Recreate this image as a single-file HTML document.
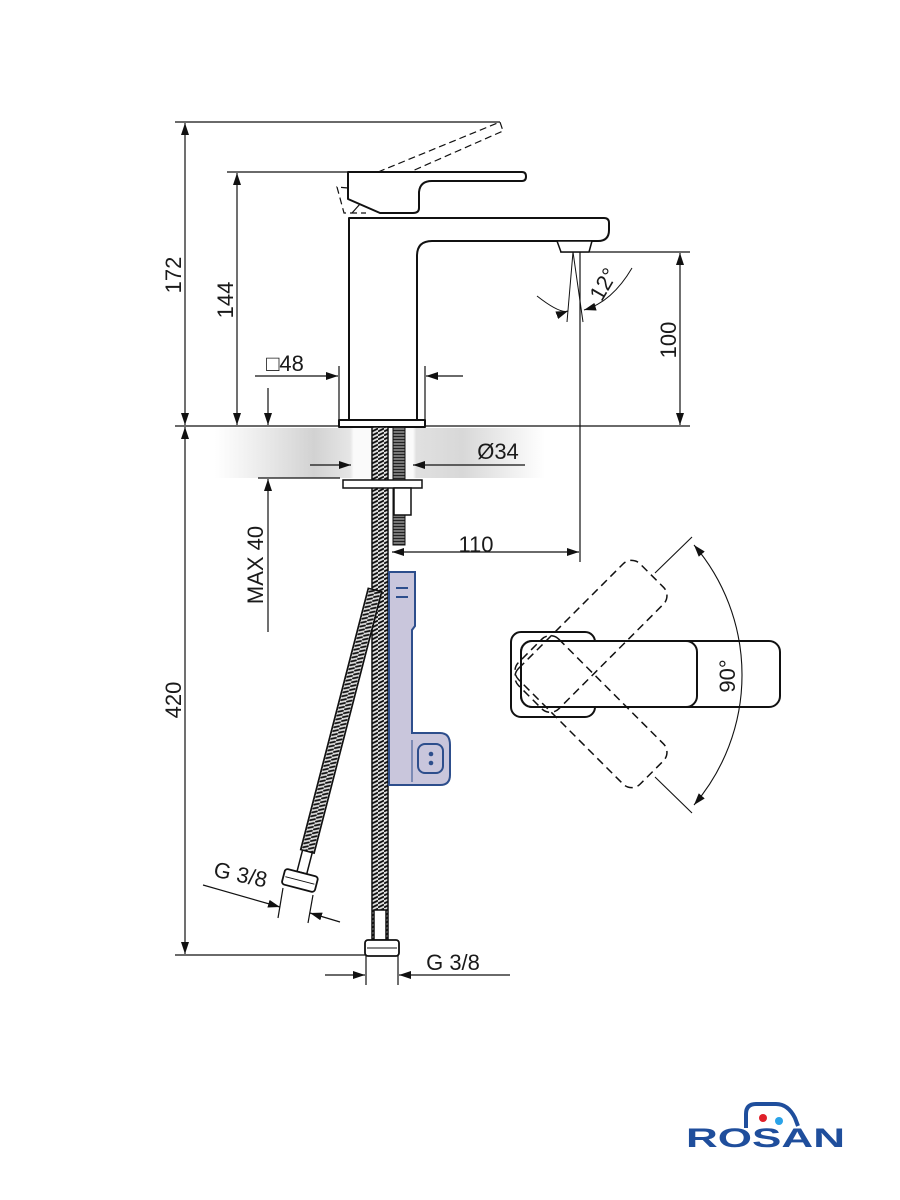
<!DOCTYPE html>
<html><head><meta charset="utf-8"><style>
html,body{margin:0;padding:0;background:#fff}
svg{display:block}
text{font-family:"Liberation Sans",sans-serif;fill:#1a1a1a}
</style></head><body>
<svg width="900" height="1200" viewBox="0 0 900 1200" xmlns="http://www.w3.org/2000/svg">
<defs>
<linearGradient id="band" x1="215" y1="0" x2="545" y2="0" gradientUnits="userSpaceOnUse">
<stop offset="0" stop-color="#d6d6d6" stop-opacity="0"/>
<stop offset="0.3" stop-color="#d2d2d2"/>
<stop offset="0.41" stop-color="#e6e6e6"/>
<stop offset="0.42" stop-color="#fafafa"/>
<stop offset="0.6" stop-color="#fafafa"/>
<stop offset="0.61" stop-color="#e0e0e0"/>
<stop offset="0.75" stop-color="#d8d8d8"/>
<stop offset="1" stop-color="#d8d8d8" stop-opacity="0"/>
</linearGradient>
<pattern id="hatch" width="6" height="4" patternUnits="userSpaceOnUse">
<rect width="6" height="4" fill="#ddd"/>
<path d="M0 3.5 L6 0.5" stroke="#111" stroke-width="1.8"/>
</pattern>
<pattern id="thread" width="4" height="3" patternUnits="userSpaceOnUse">
<rect width="4" height="3" fill="#777"/>
<path d="M0 1.5 H4" stroke="#222" stroke-width="1"/>
</pattern>
<marker id="a" viewBox="0 0 12 8" refX="12" refY="4" markerWidth="12" markerHeight="8" orient="auto-start-reverse" markerUnits="userSpaceOnUse">
<path d="M0 0 L12 4 L0 8 Z" fill="#111"/>
</marker>
</defs>

<rect x="215" y="428" width="330" height="50" fill="url(#band)"/>

<g stroke="#111" stroke-width="1.2" fill="none">
<line x1="175" y1="122" x2="500" y2="122"/>
<line x1="227" y1="172" x2="350" y2="172"/>
<line x1="175" y1="426" x2="690" y2="426"/>
<line x1="560" y1="252" x2="690" y2="252"/>
<line x1="258" y1="478" x2="340" y2="478"/>
<line x1="175" y1="955" x2="366" y2="955"/>
<line x1="185" y1="123" x2="185" y2="425" marker-start="url(#a)" marker-end="url(#a)"/>
<line x1="237" y1="173" x2="237" y2="425" marker-start="url(#a)" marker-end="url(#a)"/>
<line x1="185" y1="427" x2="185" y2="954" marker-start="url(#a)" marker-end="url(#a)"/>
<line x1="680" y1="253" x2="680" y2="425" marker-start="url(#a)" marker-end="url(#a)"/>
<line x1="268" y1="388" x2="268" y2="425" marker-end="url(#a)"/>
<line x1="268" y1="632" x2="268" y2="479" marker-end="url(#a)"/>
<line x1="339" y1="366" x2="339" y2="420"/>
<line x1="425" y1="366" x2="425" y2="420"/>
<line x1="255" y1="376" x2="338" y2="376" marker-end="url(#a)"/>
<line x1="463" y1="376" x2="426" y2="376" marker-end="url(#a)"/>
<line x1="310" y1="465" x2="351" y2="465" marker-end="url(#a)"/>
<line x1="525" y1="465" x2="413" y2="465" marker-end="url(#a)"/>
<line x1="580" y1="252" x2="580" y2="562"/>
<line x1="392" y1="552" x2="579" y2="552" marker-start="url(#a)" marker-end="url(#a)"/>
<line x1="366" y1="955" x2="366" y2="985"/>
<line x1="398" y1="955" x2="398" y2="985"/>
<line x1="325" y1="975" x2="365" y2="975" marker-end="url(#a)"/>
<line x1="510" y1="975" x2="399" y2="975" marker-end="url(#a)"/>
<line x1="203" y1="885" x2="280" y2="907" marker-end="url(#a)"/>
<line x1="340" y1="922" x2="310" y2="913" marker-end="url(#a)"/>
<line x1="283" y1="888" x2="278" y2="918"/>
<line x1="313" y1="895" x2="308" y2="923"/>
</g>

<g stroke="#111" stroke-width="2" fill="#fff" stroke-linejoin="round">
<path d="M348 172 H522 Q526 172 526 176.5 Q526 181 522 181 H432 Q420 181 419 192 V208 Q419 213 413 213 H380 L348 199 Z"/>
<path d="M349 420 V218 H604 Q609 218 609 223 V230 Q609 241 598 241 H432 Q417 241 417 256 V420"/>
<rect x="339" y="420" width="86" height="7"/>
<path d="M557 241 H592 L589 252 H561 Z" stroke-width="1.5"/>
</g>
<g stroke="#111" stroke-width="1.2" fill="none" stroke-dasharray="7,4">
<path d="M378 172 L500 122 L503 131 L410 172"/>
<path d="M348 188 L337 187 L344 213 L366 213"/>
</g>
<path d="M352 213 L360 204" stroke="#111" stroke-width="1.2"/>
<g stroke="#111" stroke-width="1" fill="none">
<line x1="573" y1="252" x2="567" y2="322"/>
<line x1="573" y1="252" x2="583" y2="322"/>
<path d="M537 296 Q560 314 568 311" marker-end="url(#a)"/>
<path d="M632 268 Q612 302 584 310" marker-end="url(#a)"/>
</g>

<rect x="372" y="427" width="16" height="513" fill="url(#hatch)" stroke="#111" stroke-width="1.5"/>
<rect x="393" y="427" width="12" height="118" fill="url(#thread)" stroke="#111" stroke-width="1"/>
<rect x="343" y="480" width="79" height="8" fill="#fff" stroke="#111" stroke-width="1.5"/>
<rect x="394" y="488" width="17" height="27" fill="#fff" stroke="#111" stroke-width="1.5"/>
<g transform="translate(375,590) rotate(14.5)">
<rect x="-7" y="0" width="14" height="270" fill="url(#hatch)" stroke="#111" stroke-width="1.5"/>
<rect x="-5" y="270" width="10" height="22" fill="#fff" stroke="#111" stroke-width="1.5"/>
<rect x="-17" y="292" width="34" height="16" rx="3" fill="#fff" stroke="#111" stroke-width="1.8"/>
<line x1="-15" y1="300" x2="15" y2="300" stroke="#111"/>
</g>
<rect x="374" y="910" width="12" height="30" fill="#fff" stroke="#111" stroke-width="1.5"/>
<rect x="365" y="940" width="34" height="16" rx="3" fill="#fff" stroke="#111" stroke-width="1.8"/>
<line x1="367" y1="948" x2="397" y2="948" stroke="#111"/>

<path d="M389 572 H415 V626 L412 630 V733 H440 Q450 733 450 745 V775 Q450 785 440 785 H389 Z" fill="#c9c6dc" stroke="#2d4e8c" stroke-width="2"/>
<line x1="396" y1="588" x2="408" y2="588" stroke="#2d4e8c" stroke-width="2"/>
<line x1="396" y1="597" x2="408" y2="597" stroke="#2d4e8c" stroke-width="2"/>
<rect x="418" y="744" width="25" height="29" rx="7" fill="none" stroke="#2d4e8c" stroke-width="2"/>
<circle cx="431" cy="754" r="2.3" fill="#2d4e8c"/>
<circle cx="431" cy="763" r="2.3" fill="#2d4e8c"/>
<line x1="412" y1="740" x2="412" y2="782" stroke="#2d4e8c" stroke-width="1"/>

<g stroke="#111" fill="none" stroke-width="2">
<rect x="511" y="632" width="84" height="85" rx="10"/>
<rect x="521" y="641" width="259" height="66" rx="11" fill="#fff"/>
<rect x="521" y="641" width="176" height="66" rx="11"/>
</g>
<g stroke="#111" fill="none" stroke-width="1.5" stroke-dasharray="8,5">
<rect x="0" y="0" width="172" height="57" rx="12" transform="translate(510,677) rotate(-45)"/>
<rect x="0" y="-57" width="172" height="57" rx="12" transform="translate(510,671) rotate(45)"/>
</g>
<g stroke="#111" fill="none" stroke-width="1.1">
<line x1="655" y1="573" x2="692" y2="537"/>
<line x1="655" y1="777" x2="692" y2="813"/>
<path d="M694 545 A200 200 0 0 1 694 805" marker-start="url(#a)" marker-end="url(#a)"/>
</g>

<g font-size="22">
<text transform="translate(181,275) rotate(-90)" text-anchor="middle">172</text>
<text transform="translate(233,300) rotate(-90)" text-anchor="middle">144</text>
<text transform="translate(181,700) rotate(-90)" text-anchor="middle">420</text>
<text transform="translate(676,340) rotate(-90)" text-anchor="middle">100</text>
<text transform="translate(263,565) rotate(-90)" text-anchor="middle">MAX 40</text>
<text transform="translate(735,676) rotate(-90)" text-anchor="middle">90°</text>
<text transform="translate(610,288) rotate(-60)" text-anchor="middle">12°</text>
<text x="285" y="371" text-anchor="middle">□48</text>
<text x="498" y="459" text-anchor="middle">Ø34</text>
<text x="476" y="552" text-anchor="middle">110</text>
<text x="453" y="970" text-anchor="middle">G 3/8</text>
<text transform="translate(239,882) rotate(12)" text-anchor="middle">G 3/8</text>
</g>

<path d="M746 1128 V1114 Q746 1104 756 1104 H776 Q788 1104 795 1118 L798 1126" fill="none" stroke="#1f4e9c" stroke-width="4"/>
<circle cx="763" cy="1118" r="4" fill="#e0202a"/>
<circle cx="779" cy="1121" r="4" fill="#2aa3e8"/>
<text x="686" y="1147" font-size="27" font-weight="bold" style="fill:#1f4e9c" textLength="159" lengthAdjust="spacingAndGlyphs">ROSAN</text>
</svg>
</body></html>
